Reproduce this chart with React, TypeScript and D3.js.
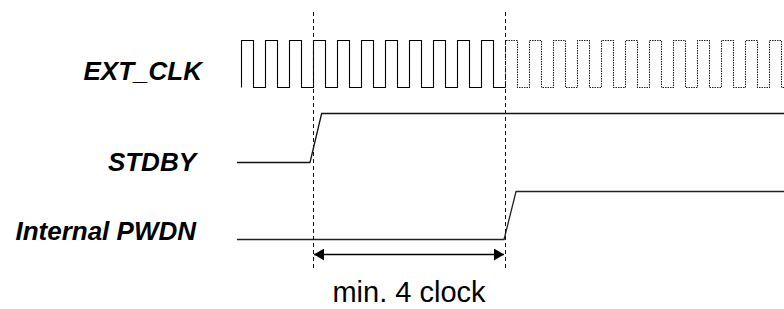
import * as d3 from "d3";

// time axis is in clock cycles, cycle 0 = first rising edge of EXT_CLK
const totalCycles = 22.625;
const solidCycles = 11; // after this the clock is drawn dotted
const markerCycles = [3, 11];

const signalNames = ["EXT_CLK", "STDBY", "Internal PWDN"];

// [cycle, level]
const stdbyPoints: [number, number][] = [
  [-0.17, 0],
  [2.875, 0],
  [3.36, 1],
  [totalCycles, 1],
];
const pwdnPoints: [number, number][] = [
  [-0.17, 0],
  [10.96, 0],
  [11.46, 1],
  [totalCycles, 1],
];

const spanLabel = "min. 4 clock";

const W = 784;
const H = 309;

export default function App() {
  const x = d3.scaleLinear().domain([0, 22]).range([241, 769]);

  // one level scale per signal row: [low, high] pixel y
  const yClk = d3.scaleLinear().domain([0, 1]).range([87, 40]);
  const yStdby = d3.scaleLinear().domain([0, 1]).range([162, 113]);
  const yPwdn = d3.scaleLinear().domain([0, 1]).range([239, 191]);

  // square wave from t0 to t1 (in cycles), starting on a rising edge
  const clockPoints = (t0: number, t1: number): [number, number][] => {
    const pts: [number, number][] = [[t0, 0]];
    for (let t = t0; t < t1; t += 0.5) {
      const level = Math.round((t - t0) * 2) % 2 === 0 ? 1 : 0;
      const prev = level ? 0 : 1;
      pts.push([t, prev], [t, level], [Math.min(t + 0.5, t1), level]);
    }
    return pts;
  };

  const clkLine = d3
    .line<[number, number]>()
    .x((d) => Math.round(x(d[0])) + 0.5)
    .y((d) => Math.round(yClk(d[1])) + 0.5);

  const sigLine = (y: d3.ScaleLinear<number, number>) =>
    d3
      .line<[number, number]>()
      .x((d) => x(d[0]))
      .y((d) => Math.round(y(d[1])) + 0.5);

  const font = "'Liberation Sans', Arial, sans-serif";
  const arrowY = 254;

  return (
    <svg
      width={W}
      height={H}
      style={{ position: "absolute", left: 0, top: 0, background: "#fff", display: "block" }}
    >
      <defs>
        <marker
          id="arrowEnd"
          viewBox="0 0 10 12"
          refX={10}
          refY={6}
          markerWidth={10}
          markerHeight={12}
          markerUnits="userSpaceOnUse"
          orient="auto"
        >
          <path d="M0,0 L10,6 L0,12 Z" fill="#000" />
        </marker>
        <marker
          id="arrowStart"
          viewBox="0 0 10 12"
          refX={0}
          refY={6}
          markerWidth={10}
          markerHeight={12}
          markerUnits="userSpaceOnUse"
          orient="auto"
        >
          <path d="M10,0 L0,6 L10,12 Z" fill="#000" />
        </marker>
      </defs>

      {/* signal names */}
      {signalNames.map((name, i) => (
        <text
          key={name}
          x={i === 0 ? 202 : 196}
          y={[80, 171, 240][i]}
          textAnchor="end"
          fontFamily={font}
          fontWeight="bold"
          fontStyle="italic"
          fontSize={26}
          fill="#000"
        >
          {name}
        </text>
      ))}

      {/* EXT_CLK */}
      <path
        d={clkLine(clockPoints(0, solidCycles)) ?? ""}
        fill="none"
        stroke="#000"
        strokeWidth={1.1}
      />
      <path
        d={clkLine(clockPoints(solidCycles, totalCycles)) ?? ""}
        fill="none"
        stroke="#222"
        strokeWidth={1.1}
        strokeDasharray="1.5,1"
      />

      {/* STDBY and Internal PWDN */}
      <path
        d={sigLine(yStdby)(stdbyPoints) ?? ""}
        fill="none"
        stroke="#111"
        strokeWidth={1.3}
      />
      <path
        d={sigLine(yPwdn)(pwdnPoints) ?? ""}
        fill="none"
        stroke="#222"
        strokeWidth={1.3}
      />

      {/* dashed timing markers */}
      {markerCycles.map((c) => (
        <line
          key={c}
          x1={Math.round(x(c)) + 0.5}
          x2={Math.round(x(c)) + 0.5}
          y1={12}
          y2={268}
          stroke="#111"
          strokeWidth={1}
          strokeDasharray="4,3"
        />
      ))}

      {/* span arrow */}
      <line
        x1={x(markerCycles[0]) + 1}
        x2={x(markerCycles[1]) - 1}
        y1={arrowY + 0.5}
        y2={arrowY + 0.5}
        stroke="#000"
        strokeWidth={1.3}
        markerStart="url(#arrowStart)"
        markerEnd="url(#arrowEnd)"
      />
      <text
        x={x((markerCycles[0] + markerCycles[1]) / 2)}
        y={302}
        textAnchor="middle"
        fontFamily={font}
        fontSize={29}
        fill="#000"
      >
        {spanLabel}
      </text>
    </svg>
  );
}
